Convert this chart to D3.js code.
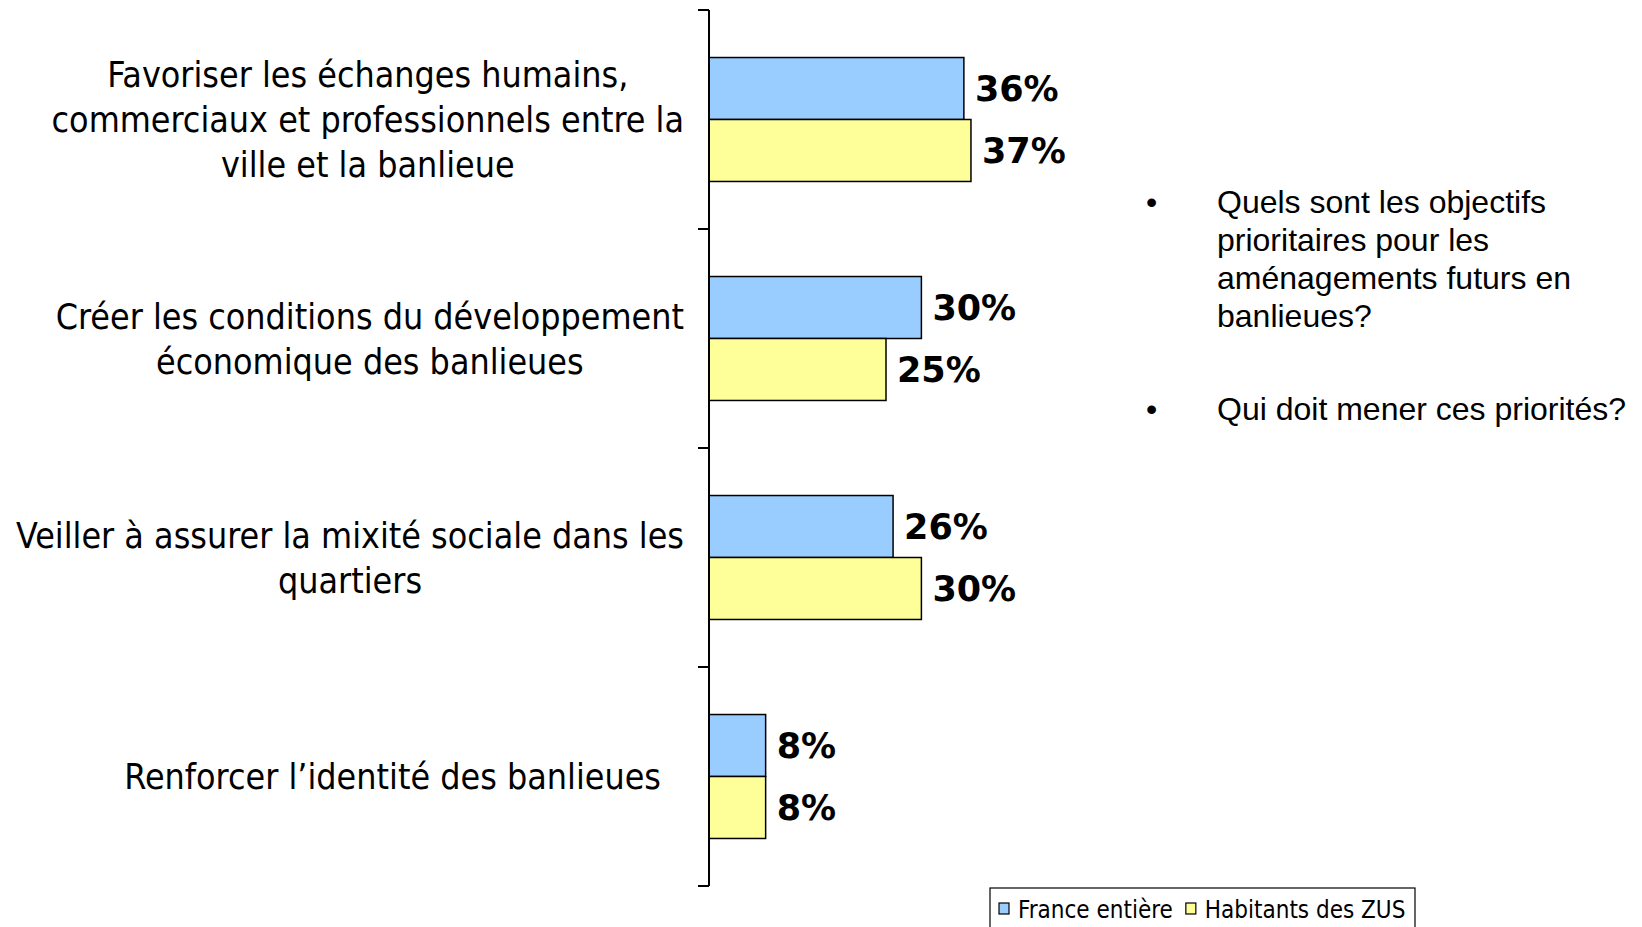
<!DOCTYPE html>
<html>
<head>
<meta charset="utf-8">
<script src="https://cdn.jsdelivr.net/npm/d3@7"></script>
<style>
  body { margin: 0; background: #fff; }
  svg { display: block; }
</style>
</head>
<body>
<div id="chart"></div>
<script>
// Categories (one array of lines per category) and the two series
var categories = [
	['Favoriser les échanges humains,', 'commerciaux et professionnels entre la', 'ville et la banlieue'],
	['Créer les conditions du développement', 'économique des banlieues'],
	['Veiller à assurer la mixité sociale dans les', 'quartiers'],
	['Renforcer l’identité des banlieues']
];
var seriesNames = ['France entière', 'Habitants des ZUS'];
var franceValues = [36, 30, 26, 8];
var zusValues = [37, 25, 30, 8];
var colours = ['#99ccff', '#ffff99'];

var notes = [
	['Quels sont les objectifs', 'prioritaires pour les', 'aménagements futurs en', 'banlieues?'],
	['Qui doit mener ces priorités?']
];

var width = 1642, height = 927;
var axisX = 709;

var svg = d3.select('#chart')
	.append('svg')
		.attr('width', width)
		.attr('height', height);

// Scales
var x = d3.scaleLinear()
	.domain([0, 100])
	.range([axisX, axisX + 708]);

var y = d3.scaleBand()
	.domain(d3.range(categories.length))
	.range([10, 886])
	.paddingInner(0.434)
	.paddingOuter(0.217);

var ySub = d3.scaleBand()
	.domain([0, 1])
	.range([0, y.bandwidth()]);

var rows = categories.map(function(c, i){
	return { label: c, values: [franceValues[i], zusValues[i]] };
});

// Bars and value labels
var groups = svg.selectAll('g.cat')
	.data(rows)
	.enter()
	.append('g')
		.attr('class', 'cat')
		.attr('transform', function(d, i){ return 'translate(0,' + y(i) + ')'; });

groups.selectAll('rect')
	.data(function(d){ return d.values; })
	.enter()
	.append('rect')
		.attr('x', x(0))
		.attr('y', function(d, i){ return ySub(i); })
		.attr('width', function(d){ return x(d) - x(0); })
		.attr('height', ySub.bandwidth())
		.attr('fill', function(d, i){ return colours[i]; })
		.attr('stroke', '#000')
		.attr('stroke-width', 1.5);

groups.selectAll('text.val')
	.data(function(d){ return d.values; })
	.enter()
	.append('text')
		.attr('class', 'val')
		.attr('x', function(d){ return x(d) + 11; })
		.attr('y', function(d, i){ return ySub(i) + ySub.bandwidth() / 2; })
		.attr('dy', '0.36em')
		.style('font-family', 'DejaVu Sans')
		.style('font-weight', 'bold')
		.style('font-size', '35px')
		.attr('fill', '#000')
		.text(function(d){ return d + '%'; });

// Vertical axis with ticks between categories
svg.append('line')
	.attr('x1', axisX).attr('x2', axisX)
	.attr('y1', 10).attr('y2', 886)
	.attr('stroke', '#000')
	.attr('stroke-width', 2);

var tickYs = d3.range(categories.length + 1).map(function(i){ return 10 + i * y.step(); });
svg.selectAll('line.tick')
	.data(tickYs)
	.enter()
	.append('line')
		.attr('class', 'tick')
		.attr('x1', axisX - 11).attr('x2', axisX)
		.attr('y1', function(d){ return d; })
		.attr('y2', function(d){ return d; })
		.attr('stroke', '#000')
		.attr('stroke-width', 2);

// Category labels, centred lines, block right-aligned near the axis
var labelRight = 684;
var lineGap = 45;
svg.selectAll('g.label')
	.data(rows)
	.enter()
	.append('g')
		.attr('class', 'label')
		.each(function(d, i){
			var g = d3.select(this);
			var cy = y(i) + y.bandwidth() / 2;
			var n = d.label.length;
			var texts = g.selectAll('text')
				.data(d.label)
				.enter()
				.append('text')
					.attr('text-anchor', 'middle')
					.attr('y', function(t, j){ return cy + (j - (n - 1) / 2) * lineGap; })
					.attr('dy', '0.36em')
					.style('font-family', 'DejaVu Sans Condensed')
					.style('font-size', '35.5px')
					.attr('fill', '#000')
					.text(function(t){ return t; });
			var maxW = d3.max(texts.nodes(), function(node){ return node.getComputedTextLength(); });
			// single-line label sits a little further from the axis
			var right = n === 1 ? labelRight - 23 : labelRight;
			texts.attr('x', right - maxW / 2);
		});

// Side notes with bullets
var noteStarts = [213, 420];
notes.forEach(function(para, p){
	svg.append('text')
		.attr('x', 1146)
		.attr('y', noteStarts[p])
		.style('font-family', 'Liberation Sans')
		.style('font-size', '32px')
		.text('•');
	svg.append('text')
		.style('font-family', 'Liberation Sans')
		.style('font-size', '32px')
		.selectAll('tspan')
		.data(para)
		.enter()
		.append('tspan')
			.attr('x', 1217)
			.attr('y', function(t, j){ return noteStarts[p] + j * 38; })
			.text(function(t){ return t; });
});

// Legend
var legend = svg.append('g').attr('class', 'legend');
legend.append('rect')
	.attr('x', 990).attr('y', 888)
	.attr('width', 425).attr('height', 60)
	.attr('fill', '#fff')
	.attr('stroke', '#000')
	.attr('stroke-width', 1.2);

var lx = 999;
seriesNames.forEach(function(name, i){
	legend.append('rect')
		.attr('x', lx).attr('y', 903)
		.attr('width', 10).attr('height', 11)
		.attr('fill', colours[i])
		.attr('stroke', '#000')
		.attr('stroke-width', 1.2);
	var t = legend.append('text')
		.attr('x', lx + 19)
		.attr('y', 918)
		.style('font-family', 'DejaVu Sans Condensed')
		.style('font-size', '24px')
		.text(name);
	lx = lx + 19 + t.node().getComputedTextLength() + 13;
});
</script>
</body>
</html>
